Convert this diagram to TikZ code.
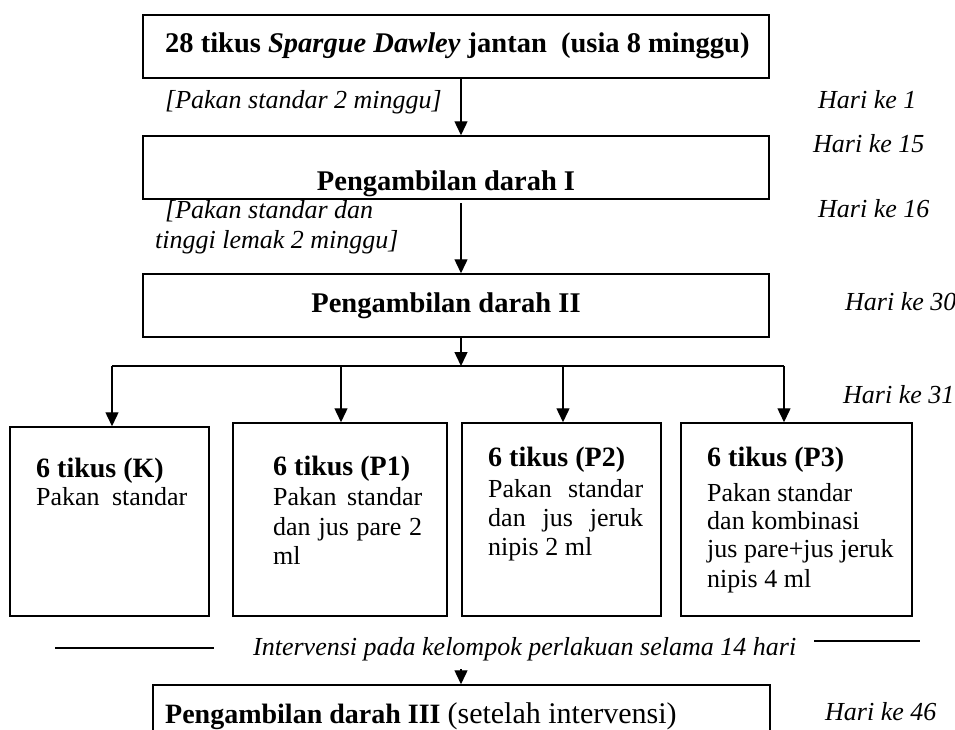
\documentclass[tikz,border=0pt]{standalone}
\usepackage{fontspec}
\setmainfont{Liberation Serif}
\usetikzlibrary{arrows.meta}
\begin{document}
\begin{tikzpicture}[x=1pt,y=-1pt,
  box/.style={draw, line width=1.5pt, inner sep=0pt},
  arr/.style={line width=1.4pt, -{Triangle[length=14pt,width=13pt]}},
  ln/.style={line width=1.4pt},
  hari/.style={anchor=base west, inner sep=0pt, font=\fontsize{26}{30}\selectfont\itshape},
  note/.style={anchor=base west, inner sep=0pt, font=\fontsize{26}{30}\selectfont\itshape},
  btxt/.style={anchor=base, inner sep=0pt, font=\fontsize{28.5}{32}\selectfont\bfseries},
  bhead/.style={anchor=base west, inner sep=0pt, font=\fontsize{28}{32}\selectfont\bfseries},
  body/.style={anchor=base west, inner sep=0pt, font=\fontsize{26}{30}\selectfont},
]
\useasboundingbox (0,0) rectangle (955,729);

% main boxes
\node[box, minimum width=626pt, minimum height=63pt] (b1) at (456,46.5) {};
\node[box, minimum width=626pt, minimum height=63pt] (b2) at (456,167.5) {};
\node[box, minimum width=626pt, minimum height=63pt] (b3) at (456,305.5) {};

\node[btxt, anchor=base west] (t1) at (165,52) {28 tikus \textit{Spargue Dawley} jantan\ \ (usia 8 minggu)};
\node[btxt] (t2) at (446,190) {Pengambilan darah I};
\node[btxt] (t3) at (446,312) {Pengambilan darah II};

% side notes
\node[note] (n1) at (165,108) {[Pakan standar 2 minggu]};
\node[note] (n2) at (165,218) {[Pakan standar dan};
\node[note] (n3) at (155,248) {tinggi lemak 2 minggu]};

% day labels
\node[hari] (h1) at (818,108) {Hari ke 1};
\node[hari] (h15) at (813,152) {Hari ke 15};
\node[hari] (h16) at (818,217) {Hari ke 16};
\node[hari] (h30) at (845,310) {Hari ke 30};
\node[hari] (h31) at (843,403) {Hari ke 31};
\node[hari] (h46) at (825,720) {Hari ke 46};

% vertical arrows
\coordinate (cx) at (461,0);
\coordinate (a2s) at (461,203);
\draw[arr] (b1.south -| cx) -- (b2.north -| cx);
\draw[arr] (a2s) -- (b3.north -| cx);

% split
\coordinate (sl) at (112,366);
\coordinate (sr) at (784,366);
\coordinate (sc) at (461,366);
\coordinate (s2) at (341,366);
\coordinate (s3) at (563,366);
\draw[arr] (b3.south -| cx) -- (sc);
\draw[ln] (sl) -- (sr);

% group boxes
\node[box, minimum width=199pt, minimum height=189pt] (gk) at (109.5,521.5) {};
\node[box, minimum width=214pt, minimum height=193pt] (g1) at (340,519.5) {};
\node[box, minimum width=199pt, minimum height=193pt] (g2) at (561.5,519.5) {};
\node[box, minimum width=231pt, minimum height=193pt] (g3) at (796.5,519.5) {};

\draw[arr] (sl) -- (gk.north -| sl);
\draw[arr] (s2) -- (g1.north -| s2);
\draw[arr] (s3) -- (g2.north -| s3);
\draw[arr] (sr) -- (g3.north -| sr);

% group texts
\node[bhead] (kh) at (36,477) {6 tikus (K)};
\node[body] (k1) at (36,505) {\makebox[151pt][s]{Pakan standar}};

\node[bhead] (p1h) at (273,475) {6 tikus (P1)};
\node[body] (p1a) at (273,505) {\makebox[149pt][s]{Pakan standar}};
\node[body] (p1b) at (273,535) {\makebox[149pt][s]{dan jus pare 2}};
\node[body] (p1c) at (273,564) {ml};

\node[bhead] (p2h) at (488,466) {6 tikus (P2)};
\node[body] (p2a) at (488,497) {\makebox[155pt][s]{Pakan standar}};
\node[body] (p2b) at (488,526) {\makebox[155pt][s]{dan jus jeruk}};
\node[body] (p2c) at (488,555) {nipis 2 ml};

\node[bhead] (p3h) at (707,466) {6 tikus (P3)};
\node[body] (p3a) at (707,501) {Pakan standar};
\node[body] (p3b) at (707,529) {dan kombinasi};
\node[body] (p3c) at (707,557) {jus pare+jus jeruk};
\node[body] (p3d) at (707,587) {nipis 4 ml};

% intervention line
\coordinate (l1a) at (55,648);
\coordinate (l1b) at (214,648);
\coordinate (l2a) at (814,641);
\coordinate (l2b) at (920,641);
\draw[ln] (l1a) -- (l1b);
\draw[ln] (l2a) -- (l2b);
\begin{scope}
\clip (230,620) rectangle (810,661);
\node[note] (iv) at (253,655) {Intervensi pada kelompok perlakuan selama 14 hari};
\end{scope}

% last box
\node[box, minimum width=617pt, minimum height=80pt] (b4) at (461.5,725) {};
\coordinate (a4s) at (461,669);
\draw[arr] (a4s) -- (b4.north -| cx);
\node[bhead] (t4) at (165,723) {Pengambilan darah III {\mdseries\fontsize{30}{34}\selectfont(setelah intervensi)}};
\end{tikzpicture}
\end{document}
